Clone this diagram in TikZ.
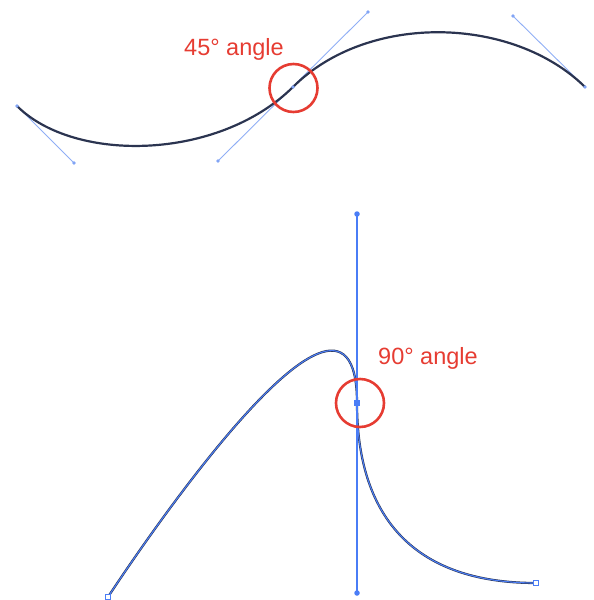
\documentclass[tikz,border=0pt]{standalone}
\usepackage{fontspec}
\setmainfont{Liberation Sans}
\usetikzlibrary{positioning}
\definecolor{pathnavy}{HTML}{2B3450}
\definecolor{handleblue}{HTML}{8FAEF5}
\definecolor{selblue}{HTML}{4A7DF6}
\definecolor{markred}{HTML}{E63C32}
\tikzset{
  curve/.style={draw=pathnavy, line width=2.2pt},
  handle/.style={draw=handleblue, line width=0.9pt},
  selpath/.style={draw=selblue, line width=1.1pt},
  hdot/.style={circle, fill=handleblue!80!selblue, inner sep=0pt, minimum size=3.6pt},
  sdot/.style={circle, fill=selblue, inner sep=0pt, minimum size=5.5pt},
  sanchor/.style={rectangle, fill=selblue, inner sep=0pt, minimum size=5.5pt},
  endbox/.style={rectangle, draw=selblue, fill=white, line width=1pt, inner sep=0pt, minimum size=5.5pt},
  ring/.style={circle, draw=markred, line width=2.6pt, inner sep=0pt, minimum size=48pt},
  note/.style={text=markred, font=\fontsize{23.5}{28}\selectfont, inner sep=0pt, anchor=base west}
}

\begin{document}
\begin{tikzpicture}[x=1pt,y=-1pt]
  \useasboundingbox (0,0) rectangle (594,600);
  % upper path: smooth point, handles at 45 degrees
  \coordinate (a0) at (17,106);
  \coordinate (h0) at (74,163);
  \coordinate (h1) at (218,161);
  \coordinate (a1) at (293,87);
  \coordinate (h2) at (368,12);
  \coordinate (h3) at (513,16);
  \coordinate (a2) at (585,87);
  \draw[handle] (a0) -- (h0) (h1) -- (h2) (h3) -- (a2);
  \draw[curve] (a0) .. controls (h0) and (h1) .. (a1) .. controls (h2) and (h3) .. (a2);
  \foreach \p in {a0,h0,h1,a1,h2,h3,a2}
    \node[hdot] (dot-\p) at (\p) {};
  \node[ring] (ringA) at (293.5,88) {};
  \node[note] (noteA) at (184,55) {45° angle};

  % lower path: vertical handles through the middle point
  \coordinate (b0) at (108,597);
  \coordinate (k0) at (357,214);
  \coordinate (b1) at (357,403);
  \coordinate (k1) at (357,593);
  \coordinate (c0) at (357,513);
  \coordinate (c1) at (410,583);
  \coordinate (b2) at (536,583);
  \draw[selpath, preaction={draw=pathnavy, line width=2.2pt}]
    (b0) .. controls (b0) and (k0) .. (b1) .. controls (c0) and (c1) .. (b2);
  \draw[selpath, line width=1.5pt] (k0) -- (k1);
  \node[sdot] (dotTop) at (k0) {};
  \node[sdot] (dotBot) at (k1) {};
  \node[sanchor] (mid) at (b1) {};
  \node[endbox] (startBox) at (b0) {};
  \node[endbox] (endBox) at (b2) {};
  \node[ring] (ringB) at (360,403) {};
  \node[note] (noteB) at (378,364) {90° angle};
\end{tikzpicture}
\end{document}
